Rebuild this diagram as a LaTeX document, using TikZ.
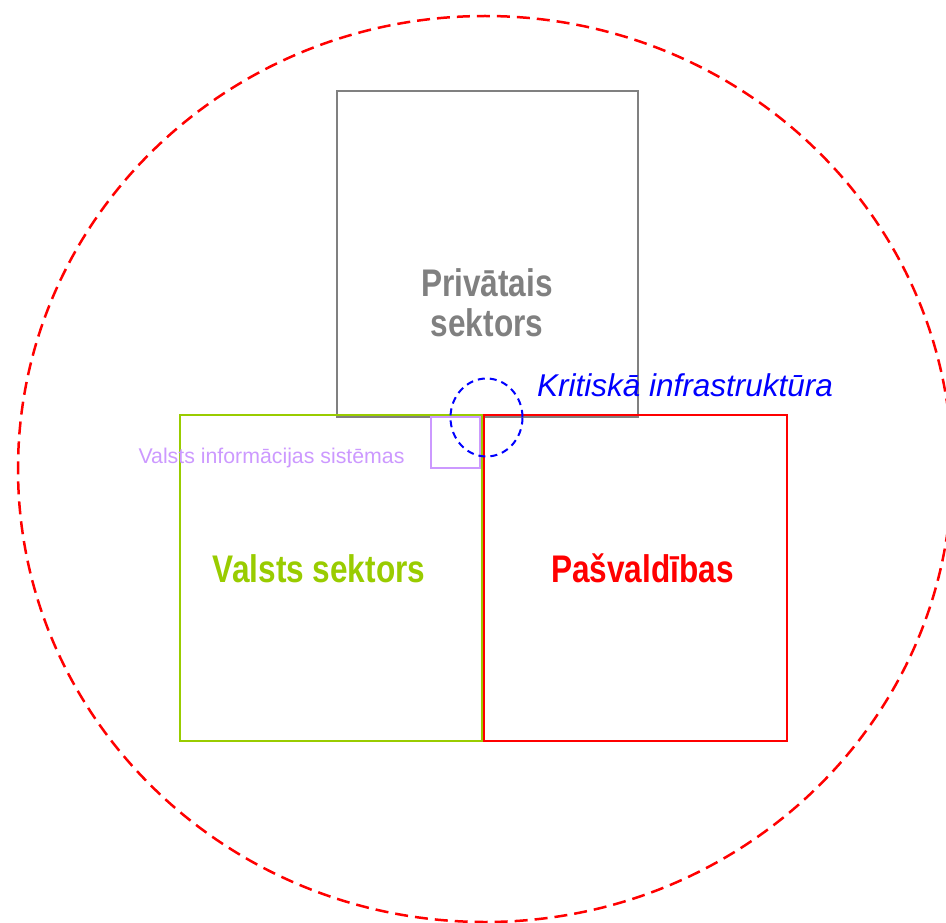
\documentclass[tikz,border=0pt]{standalone}
\usepackage{fontspec}
\setmainfont{Liberation Sans}
\usepackage{graphicx}
\definecolor{sektgray}{RGB}{128,128,128}
\definecolor{sektgreen}{RGB}{153,204,0}
\definecolor{sektpurple}{RGB}{204,153,255}
\newcommand{\narrowbf}[1]{\scalebox{0.82}[1]{\bfseries #1}}
\begin{document}
\begin{tikzpicture}[x=1pt, y=-1pt,
	box/.style={line width=2pt},
	bigtext/.style={inner sep=0pt, font=\fontsize{38.5}{40}\selectfont},
	smalltext/.style={inner sep=0pt, font=\fontsize{21.3}{24}\selectfont}]
	\useasboundingbox (0,0) rectangle (946,923);
	\draw[red, line width=2.5pt, dash pattern=on 13pt off 7pt] (485,469) ellipse [x radius=467, y radius=453];
	\draw[box, sektgray] (337,91) rectangle (638,417);
	\draw[box, sektgreen] (180,415) rectangle (482,741);
	\draw[box, red] (484,415) rectangle (787,741);
	\draw[box, sektpurple] (431,417) rectangle (480,468);
	\draw[blue, line width=2pt, dash pattern=on 7pt off 5pt] (486.5,417.5) ellipse [x radius=36, y radius=39];
	\node[bigtext, sektgray, align=center] (privat) at (487,303) {\narrowbf{Privātais}\\\narrowbf{sektors}};
	\node[bigtext, sektgreen, anchor=base] (valsts) at (319,582) {\narrowbf{Valsts sektors}};
	\node[bigtext, red, anchor=base] (pasv) at (642.5,582) {\narrowbf{Pašvaldības}};
	\node[smalltext, sektpurple, anchor=base] (vis) at (271.5,463) {Valsts informācijas sistēmas};
	\node[inner sep=0pt, font=\fontsize{31.5}{36}\selectfont\itshape, blue, anchor=base west] (krit) at (537,396) {Kritiskā infrastruktūra};
\end{tikzpicture}
\end{document}
